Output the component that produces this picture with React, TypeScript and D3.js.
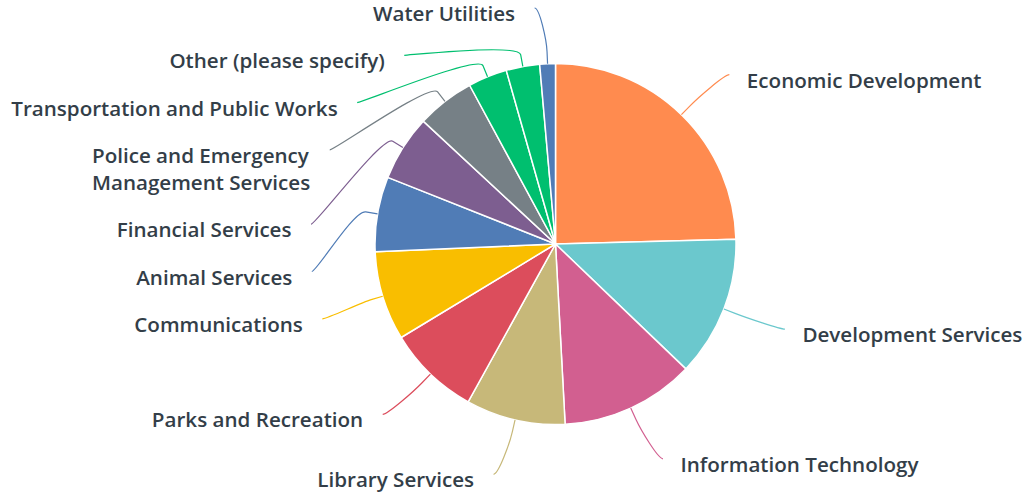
import React, { useEffect, useRef } from "react";
import * as d3 from "d3";

const categories = [
  "Economic Development",
  "Development Services",
  "Information Technology",
  "Library Services",
  "Parks and Recreation",
  "Communications",
  "Animal Services",
  "Financial Services",
  "Police and Emergency Management Services",
  "Transportation and Public Works",
  "Other (please specify)",
  "Water Utilities",
];
const labelLines = [
  ["Economic Development"],
  ["Development Services"],
  ["Information Technology"],
  ["Library Services"],
  ["Parks and Recreation"],
  ["Communications"],
  ["Animal Services"],
  ["Financial Services"],
  ["Police and Emergency", "Management Services"],
  ["Transportation and Public Works"],
  ["Other (please specify)"],
  ["Water Utilities"],
];
const values = [24.6, 12.6, 12.0, 8.9, 8.3, 8.0, 6.7, 5.9, 5.2, 3.5, 3.0, 1.4];
const colors = [
  "#FF8B4F", "#6BC8CD", "#D25F90", "#C7B879", "#DC4D5C", "#F9BE00",
  "#507CB6", "#7D5E90", "#768086", "#00BF6F", "#00BF6F", "#507CB6",
];

const W = 1023;
const H = 494;
const CX = 555.5;
const CY = 244;
const R = 180.5;
const LABEL_R = 236.3;
const BREAK = 12;
const LINE_H = 27;
const BOX_H = 47.3;
const BOX_OFF = 8;
const FONT = "'Open Sans', sans-serif";
const FONT_SIZE = 20.6;
const TEXT_COLOR = "#333e48";

type Lab = {
  i: number;
  mid: number;
  left: boolean;
  target: number;
  h: number;
  y: number;
};

function distribute(items: Lab[], minTop: number, maxBottom: number) {
  const sorted = [...items].sort((a, b) => a.target - b.target);
  type Cl = { items: Lab[]; top: number; h: number };
  let clusters: Cl[] = sorted.map((it) => ({ items: [it], top: it.target - BOX_OFF, h: it.h }));
  const place = (c: Cl) => {
    let off = 0;
    let sum = 0;
    c.items.forEach((it) => {
      sum += it.target - BOX_OFF - off;
      off += it.h;
    });
    let top = sum / c.items.length;
    top = Math.max(minTop, Math.min(maxBottom - c.h, top));
    c.top = top;
  };
  clusters.forEach(place);
  let changed = true;
  while (changed) {
    changed = false;
    for (let k = 0; k < clusters.length - 1; k++) {
      const a = clusters[k];
      const b = clusters[k + 1];
      if (a.top + a.h > b.top + 0.01) {
        const m: Cl = { items: a.items.concat(b.items), top: 0, h: a.h + b.h };
        place(m);
        clusters.splice(k, 2, m);
        changed = true;
        break;
      }
    }
  }
  clusters.forEach((c) => {
    let off = 0;
    c.items.forEach((it) => {
      it.y = c.top + off + BOX_OFF;
      off += it.h;
    });
  });
}

export default function App() {
  const ref = useRef<SVGSVGElement>(null);
  useEffect(() => {
    const svg = d3.select(ref.current);
    svg.selectAll("*").remove();
    const pie = d3.pie<number>().sort(null).value((d) => d)(values);
    const arc = d3.arc<d3.PieArcDatum<number>>().innerRadius(0).outerRadius(R);
    const g = svg.append("g").attr("transform", `translate(${CX},${CY})`);
    g.selectAll("path")
      .data(pie)
      .join("path")
      .attr("d", arc as any)
      .attr("fill", (_, i) => colors[i])
      .attr("stroke", "#fff")
      .attr("stroke-width", 1.5)
      .attr("stroke-linejoin", "round");

    const labs: Lab[] = pie.map((p, i) => {
      const mid = (p.startAngle + p.endAngle) / 2;
      return {
        i,
        mid,
        left: mid > Math.PI,
        target: CY - LABEL_R * Math.cos(mid),
        h: BOX_H + (labelLines[i].length - 1) * LINE_H,
        y: 0,
      };
    });
    distribute(labs.filter((l) => !l.left), 0, 540);
    distribute(labs.filter((l) => l.left), 0, 540);

    const lg = svg.append("g");
    labs.forEach((l) => {
      const dy = l.y - CY;
      const dx = Math.sqrt(Math.max(0, LABEL_R * LABEL_R - dy * dy));
      const sgn = l.left ? -1 : 1;
      const ex = CX + sgn * (dx + 9);
      const ey = l.y;
      const ux = Math.sin(l.mid);
      const uy = -Math.cos(l.mid);
      const tx = CX + R * ux;
      const ty = CY + R * uy;
      const bx = tx + BREAK * ux;
      const by = ty + BREAK * uy;
      const c2x = 2 * bx - tx;
      const c2y = 2 * by - ty;
      const path = d3.path();
      path.moveTo(ex, ey);
      path.bezierCurveTo(ex - sgn * 5, ey, c2x, c2y, bx, by);
      path.lineTo(tx, ty);
      lg.append("path")
        .attr("d", path.toString())
        .attr("fill", "none")
        .attr("stroke", colors[l.i])
        .attr("stroke-width", 1.2);

      const textX = CX + sgn * (dx + (l.left ? 28.5 : 26.5));
      const t = lg
        .append("text")
        .attr("font-family", FONT)
        .attr("font-size", FONT_SIZE)
        .attr("font-weight", 600)
        .attr("fill", TEXT_COLOR)
        .attr("text-anchor", "start");
      const lines = labelLines[l.i];
      const spans = lines.map((s, k) =>
        t.append("tspan").attr("y", ey + 13 + k * LINE_H).text(s)
      );
      const widths = spans.map((s) => (s.node() as SVGTSpanElement).getComputedTextLength());
      const maxW = Math.max(...widths);
      const startX = l.left ? textX - maxW : textX;
      spans.forEach((s) => s.attr("x", startX));
    });
  }, []);
  return (
    <svg
      ref={ref}
      width={W}
      height={H}
      style={{ position: "absolute", left: 0, top: 0, background: "#fff" }}
    />
  );
}
